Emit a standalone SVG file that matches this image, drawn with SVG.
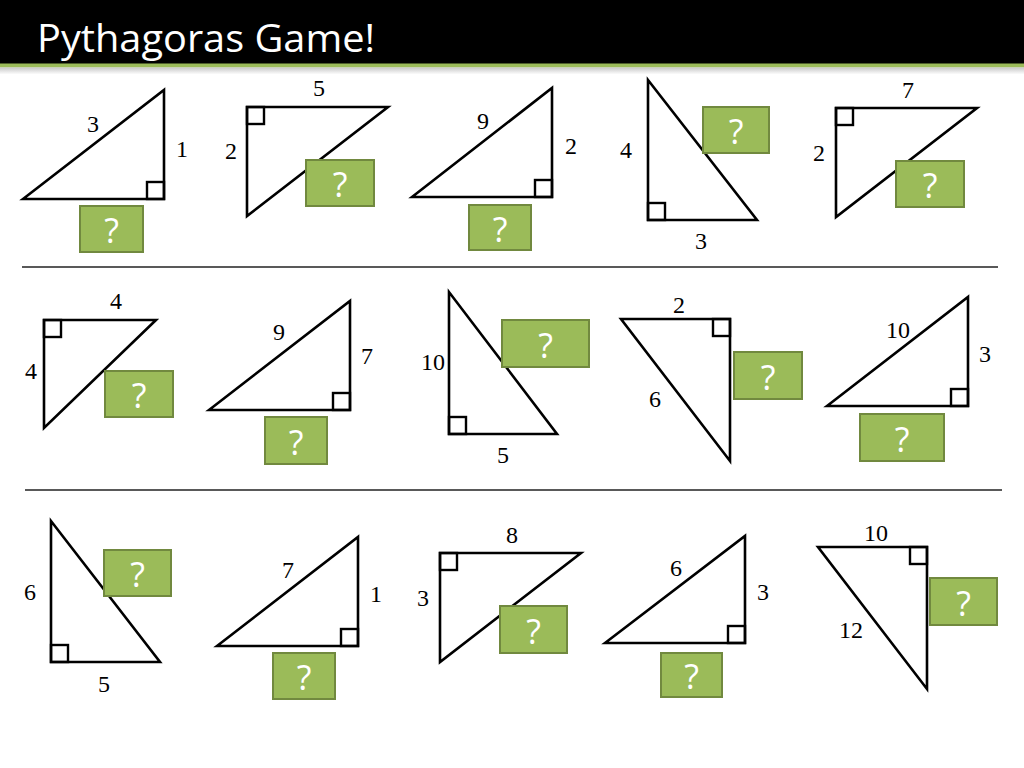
<svg xmlns="http://www.w3.org/2000/svg" width="1024" height="768" viewBox="0 0 1024 768">
<defs>
<linearGradient id="shade" x1="0" y1="0" x2="0" y2="1">
<stop offset="0" stop-color="#c8c8c8"/>
<stop offset="1" stop-color="#ffffff"/>
</linearGradient>
<style>
.tri{fill:#fff;stroke:#000;stroke-width:2.6;stroke-linejoin:miter}
.ra{fill:none;stroke:#000;stroke-width:2.4}
.lbl{font-family:"Liberation Serif","DejaVu Serif",serif;font-size:24px;fill:#000;text-anchor:middle}
.box{fill:#9BBB59;stroke:#71893F;stroke-width:2}
.q{font-family:"Open Sans","Liberation Sans",sans-serif;font-size:34px;fill:#fff;text-anchor:middle}
.sep{stroke:#222;stroke-width:1.6}
</style>
</defs>
<rect x="0" y="0" width="1024" height="768" fill="#fff"/>
<g id="title">
<rect x="0" y="0" width="1024" height="64" fill="#000"/>
<rect x="0" y="63.5" width="1024" height="4" fill="#9BBB59"/>
<rect x="0" y="67.5" width="1024" height="7" fill="url(#shade)"/>
<text x="37" y="52" font-family="'Open Sans','Liberation Sans',sans-serif" font-size="39" fill="#fff" textLength="338" lengthAdjust="spacingAndGlyphs">Pythagoras Game!</text>
</g>
<g id="separators">
<line class="sep" x1="22" y1="267" x2="998" y2="267"/>
<line class="sep" x1="25" y1="490" x2="1002" y2="490"/>
</g>
<!-- Row 1 -->
<g id="t1">
<polygon class="tri" points="23,199 164,90 164,199"/>
<rect class="ra" x="147" y="182" width="17" height="17"/>
<text class="lbl" x="93" y="132">3</text>
<text class="lbl" x="182" y="157">1</text>
<rect class="box" x="80" y="206" width="63" height="46"/>
<text class="q" x="111.5" y="243">?</text>
</g>
<g id="t2">
<polygon class="tri" points="247,107 388,107 247,216"/>
<rect class="ra" x="247" y="107" width="17" height="17"/>
<text class="lbl" x="319" y="96">5</text>
<text class="lbl" x="231" y="159">2</text>
<rect class="box" x="306" y="160" width="68" height="46"/>
<text class="q" x="340" y="197">?</text>
</g>
<g id="t3">
<polygon class="tri" points="412,197 552,88 552,197"/>
<rect class="ra" x="535" y="180" width="17" height="17"/>
<text class="lbl" x="483" y="129">9</text>
<text class="lbl" x="571" y="154">2</text>
<rect class="box" x="469" y="205" width="62" height="45"/>
<text class="q" x="500" y="241.5">?</text>
</g>
<g id="t4">
<polygon class="tri" points="648,80 648,220 757,220"/>
<rect class="ra" x="648" y="203" width="17" height="17"/>
<text class="lbl" x="626" y="158">4</text>
<text class="lbl" x="701" y="249">3</text>
<rect class="box" x="703" y="107" width="66" height="46"/>
<text class="q" x="736" y="144">?</text>
</g>
<g id="t5">
<polygon class="tri" points="836,108 977,108 836,217"/>
<rect class="ra" x="836" y="108" width="17" height="17"/>
<text class="lbl" x="908" y="98">7</text>
<text class="lbl" x="819" y="161">2</text>
<rect class="box" x="896" y="161" width="68" height="46"/>
<text class="q" x="930" y="198">?</text>
</g>
<!-- Row 2 -->
<g id="t6">
<polygon class="tri" points="44,320 156,320 44,428"/>
<rect class="ra" x="44" y="320" width="17" height="17"/>
<text class="lbl" x="116" y="309">4</text>
<text class="lbl" x="31" y="379">4</text>
<rect class="box" x="105" y="371" width="68" height="46"/>
<text class="q" x="139" y="408">?</text>
</g>
<g id="t7">
<polygon class="tri" points="209,410 350,301 350,410"/>
<rect class="ra" x="333" y="393" width="17" height="17"/>
<text class="lbl" x="279" y="340">9</text>
<text class="lbl" x="367" y="364">7</text>
<rect class="box" x="265" y="417" width="62" height="47"/>
<text class="q" x="296" y="454.5">?</text>
</g>
<g id="t8">
<polygon class="tri" points="449,292 449,434 557,434"/>
<rect class="ra" x="449" y="417" width="17" height="17"/>
<text class="lbl" x="433" y="370">10</text>
<text class="lbl" x="503" y="463">5</text>
<rect class="box" x="502" y="320" width="87" height="47"/>
<text class="q" x="545.5" y="357.5">?</text>
</g>
<g id="t9">
<polygon class="tri" points="621,319 730,319 730,461"/>
<rect class="ra" x="713" y="319" width="17" height="17"/>
<text class="lbl" x="679" y="313">2</text>
<text class="lbl" x="655" y="407">6</text>
<rect class="box" x="734" y="352" width="68" height="47"/>
<text class="q" x="768" y="389.5">?</text>
</g>
<g id="t10">
<polygon class="tri" points="827,406 968,297 968,406"/>
<rect class="ra" x="951" y="389" width="17" height="17"/>
<text class="lbl" x="898" y="338">10</text>
<text class="lbl" x="985" y="362">3</text>
<rect class="box" x="860" y="414" width="84" height="47"/>
<text class="q" x="902" y="451.5">?</text>
</g>
<!-- Row 3 -->
<g id="t11">
<polygon class="tri" points="51,521 51,662 160,662"/>
<rect class="ra" x="51" y="645" width="17" height="17"/>
<text class="lbl" x="30" y="600">6</text>
<text class="lbl" x="104" y="692">5</text>
<rect class="box" x="104" y="550" width="67" height="46"/>
<text class="q" x="137.5" y="587">?</text>
</g>
<g id="t12">
<polygon class="tri" points="217,646 358,537 358,646"/>
<rect class="ra" x="341" y="629" width="17" height="17"/>
<text class="lbl" x="288" y="578">7</text>
<text class="lbl" x="376" y="602">1</text>
<rect class="box" x="273" y="653" width="62" height="46"/>
<text class="q" x="304" y="690">?</text>
</g>
<g id="t13">
<polygon class="tri" points="440,553 581,553 440,662"/>
<rect class="ra" x="440" y="553" width="17" height="17"/>
<text class="lbl" x="512" y="543">8</text>
<text class="lbl" x="423" y="606">3</text>
<rect class="box" x="500" y="606" width="67" height="47"/>
<text class="q" x="533.5" y="643.5">?</text>
</g>
<g id="t14">
<polygon class="tri" points="605,643 745,536 745,643"/>
<rect class="ra" x="728" y="626" width="17" height="17"/>
<text class="lbl" x="676" y="576">6</text>
<text class="lbl" x="763" y="600">3</text>
<rect class="box" x="661" y="653" width="61" height="44"/>
<text class="q" x="691.5" y="689">?</text>
</g>
<g id="t15">
<polygon class="tri" points="818,547 927,547 927,689"/>
<rect class="ra" x="910" y="547" width="17" height="17"/>
<text class="lbl" x="876" y="541">10</text>
<text class="lbl" x="851" y="638">12</text>
<rect class="box" x="930" y="578" width="67" height="47"/>
<text class="q" x="963.5" y="615.5">?</text>
</g>
</svg>
